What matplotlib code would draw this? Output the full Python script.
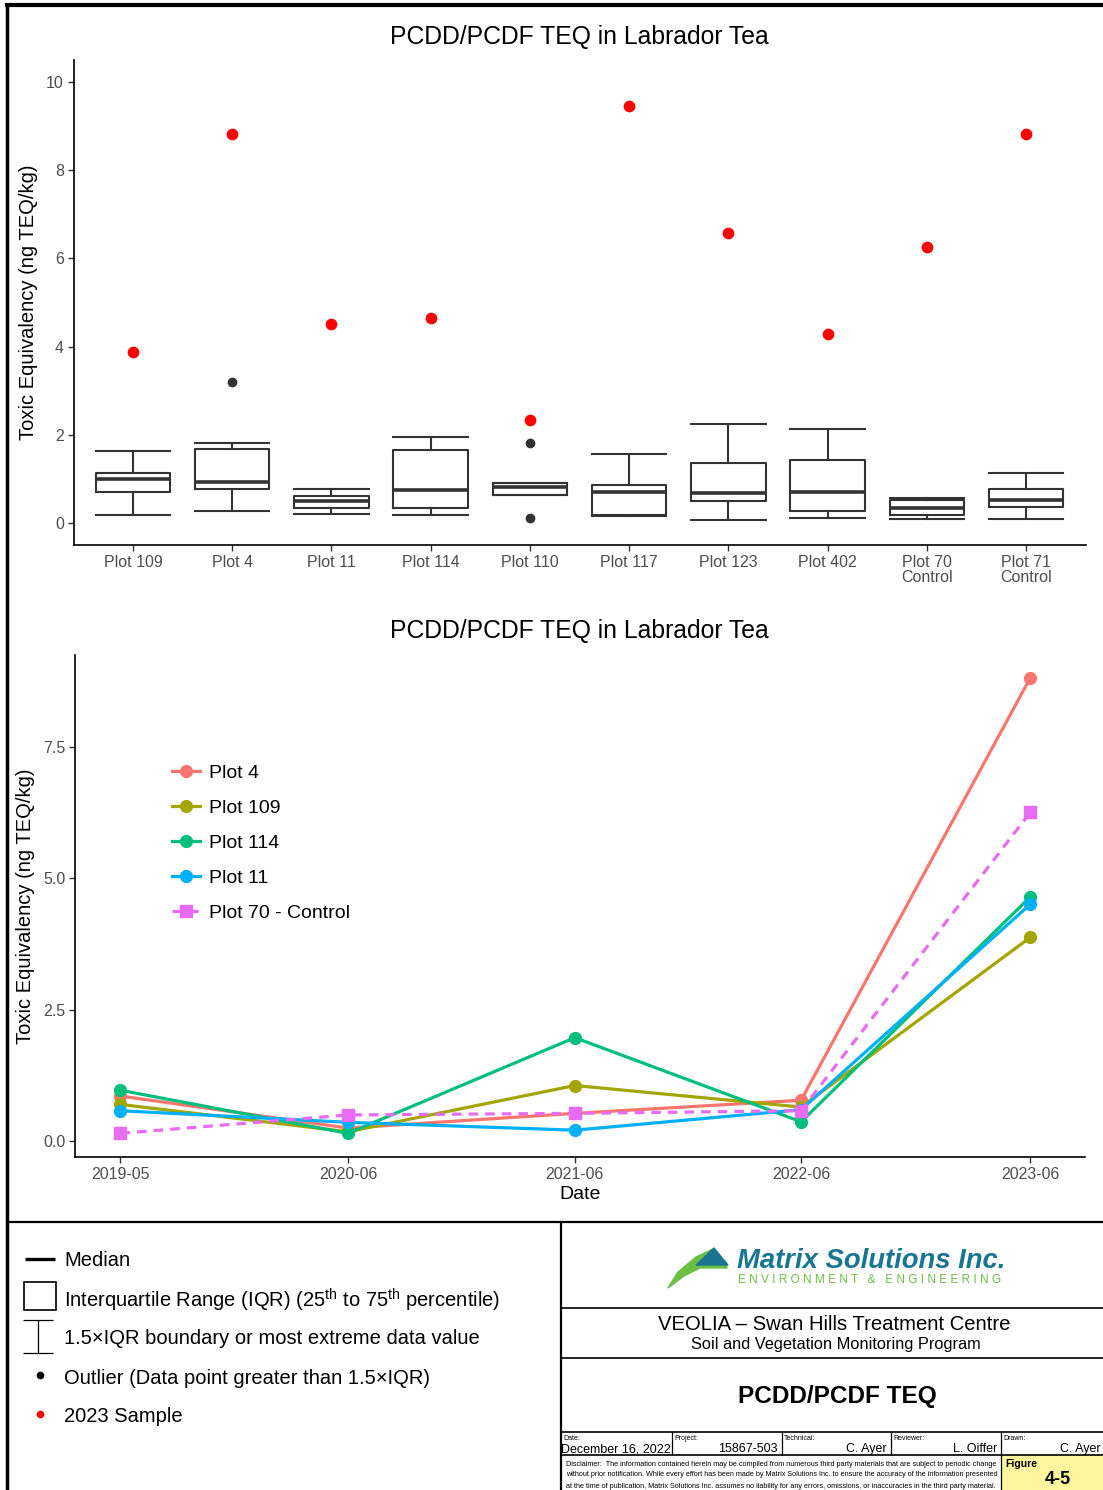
import numpy as np
import pandas as pd
import matplotlib
matplotlib.use("Agg")
import matplotlib.pyplot as plt
import matplotlib.dates as mdates
from matplotlib.lines import Line2D
from matplotlib.patches import Rectangle, Polygon

plt.rcParams['font.family'] = ['Liberation Sans', 'DejaVu Sans']
plt.rcParams['mathtext.fontset'] = 'custom'
plt.rcParams['mathtext.rm'] = 'Liberation Sans'

W, H = 1103, 1490

# box plot data
plots = ['Plot 109', 'Plot 4', 'Plot 11', 'Plot 114', 'Plot 110', 'Plot 117',
         'Plot 123', 'Plot 402', 'Plot 70\nControl', 'Plot 71\nControl']
whis_lo = [0.18, 0.26, 0.21, 0.17, 0.63, 0.15, 0.07, 0.11, 0.08, 0.08]
q1 = [0.71, 0.77, 0.35, 0.35, 0.63, 0.17, 0.50, 0.26, 0.18, 0.37]
med = [1.00, 0.93, 0.50, 0.74, 0.82, 0.71, 0.69, 0.71, 0.33, 0.52]
q3 = [1.13, 1.67, 0.62, 1.66, 0.90, 0.86, 1.36, 1.43, 0.51, 0.76]
whis_hi = [1.63, 1.81, 0.76, 1.96, 0.90, 1.56, 2.24, 2.13, 0.57, 1.13]
outliers = [[], [3.20], [], [], [1.82, 0.11], [], [], [], [], []]
sample_2023 = [3.88, 8.82, 4.51, 4.65, 2.34, 9.46, 6.58, 4.29, 6.26, 8.82]

# time series data
dates = ['2019-05-30', '2020-06-01', '2021-06-03', '2022-06-04', '2023-06-10']
series = ['Plot 4', 'Plot 109', 'Plot 114', 'Plot 11', 'Plot 70 - Control']
plot4 = [0.86, 0.25, 0.53, 0.78, 8.82]
plot109 = [0.70, 0.18, 1.06, 0.65, 3.88]
plot114 = [0.97, 0.15, 1.97, 0.37, 4.65]
plot11 = [0.58, 0.36, 0.21, 0.60, 4.51]
plot70 = [0.15, 0.50, 0.53, 0.58, 6.26]
colors = ['#F8766D', '#A3A500', '#00BF7D', '#00B0F6', '#E76BF3']


def fx(x):
    return x / W


def fy(y):
    return 1 - y / H


def px_axes(l, t, r, b):
    return fig.add_axes([l / W, 1 - b / H, (r - l) / W, (b - t) / H])


def style(ax):
    for s in ['top', 'right']:
        ax.spines[s].set_visible(False)
    for s in ['left', 'bottom']:
        ax.spines[s].set_linewidth(1.2)
        ax.spines[s].set_color('black')
    ax.tick_params(length=4, width=1, color='#333333', labelcolor='#4d4d4d',
                   labelsize=11.5, pad=3)


def fline(x0, y0, x1, y1, lw=1.2):
    fig.add_artist(Line2D([fx(x0), fx(x1)], [fy(y0), fy(y1)], color='black',
                          lw=lw, transform=fig.transFigure, solid_capstyle='butt'))


def ftext(x, y, s, **kw):
    fig.text(fx(x), fy(y), s, **kw)


fig = plt.figure(figsize=(W / 100, H / 100), dpi=100)

# ---------------- box plot ----------------
ax1 = px_axes(73.5, 60, 1085.5, 545)
stats = []
for i in range(len(plots)):
    stats.append(dict(whislo=whis_lo[i], q1=q1[i], med=med[i], q3=q3[i],
                      whishi=whis_hi[i], fliers=outliers[i]))
pos = np.arange(1, len(plots) + 1)
box_c = '#333333'
ax1.bxp(stats, positions=pos, widths=0.75, capwidths=0.75,
        boxprops=dict(color=box_c, lw=1.5),
        medianprops=dict(color=box_c, lw=2.6),
        whiskerprops=dict(color=box_c, lw=1.5),
        capprops=dict(color=box_c, lw=1.5),
        flierprops=dict(marker='o', markerfacecolor=box_c, markeredgecolor=box_c,
                        markersize=6))
ax1.scatter(pos, sample_2023, s=55, color='#FF0000', zorder=3)
ax1.set_xlim(0.4, 10.6)
ax1.set_ylim(-0.5, 10.5)
ax1.set_yticks([0, 2, 4, 6, 8, 10])
ax1.set_xticks(pos)
ax1.set_xticklabels(plots, linespacing=1.05)
style(ax1)
ax1.set_ylabel('Toxic Equivalency (ng TEQ/kg)', fontsize=14.5, color='black', labelpad=6)
ftext(579.5, 37, 'PCDD/PCDF TEQ in Labrador Tea', fontsize=17.8, ha='center', va='center')

# ---------------- line plot ----------------
ax2 = px_axes(75, 655, 1085, 1157)
d = pd.to_datetime(dates)
vals = [plot4, plot109, plot114, plot11, plot70]
for name, v, c in zip(series, vals, colors):
    if name.endswith('Control'):
        ax2.plot(d, v, color=c, lw=2.3, ls=(0, (3, 2.2)), marker='s', markersize=8.5, label=name)
    else:
        ax2.plot(d, v, color=c, lw=2.3, marker='o', markersize=8.5, label=name)
span = d[-1] - d[0]
ax2.set_xlim(d[0] - span * 0.05, d[-1] + span * 0.06)
ax2.set_ylim(-0.3, 9.25)
ax2.set_yticks([0, 2.5, 5, 7.5])
ax2.set_yticklabels(['0.0', '2.5', '5.0', '7.5'])
ax2.set_xticks(d)
ax2.xaxis.set_major_formatter(mdates.DateFormatter('%Y-%m'))
style(ax2)
ax2.set_ylabel('Toxic Equivalency (ng TEQ/kg)', fontsize=14.5, color='black', labelpad=6)
ax2.set_xlabel('Date', fontsize=14, color='black', labelpad=3)
ax2.legend(loc='upper left', bbox_to_anchor=(fx(172), fy(764)), bbox_transform=fig.transFigure,
           frameon=False, fontsize=14, handlelength=1.45, labelspacing=0.9,
           handletextpad=0.45, borderaxespad=0, borderpad=0)
ftext(579.5, 631, 'PCDD/PCDF TEQ in Labrador Tea', fontsize=17.8, ha='center', va='center')

# ---------------- frame ----------------
fline(5, 4.5, 1103, 4.5, lw=3)
fline(6.5, 3, 6.5, 1490, lw=2.5)
fline(6.5, 1222, 1103, 1222, lw=1.6)
fline(561, 1222, 561, 1490, lw=1.6)
for yy in [1308, 1358, 1432, 1455]:
    fline(561, yy, 1103, yy, lw=1.2)
for xx in [672, 782, 891, 1001]:
    fline(xx, 1432, xx, 1455, lw=0.9)
fline(1001, 1455, 1001, 1490, lw=0.9)

# ---------------- key ----------------
fline(25, 1259, 55, 1259, lw=2.4)
fig.add_artist(Rectangle((fx(24), fy(1310)), 32 / W, 28 / H, transform=fig.transFigure,
                         fill=False, ec='black', lw=1.2))
fline(23, 1320, 53, 1320, lw=0.9)
fline(23, 1353, 53, 1353, lw=0.9)
fline(38, 1320, 38, 1353, lw=0.9)
fig.add_artist(Line2D([fx(40)], [fy(1375)], marker='o', color='black', markersize=4.5,
                      transform=fig.transFigure))
fig.add_artist(Line2D([fx(40)], [fy(1414)], marker='o', color='#FF0000', markersize=4.5,
                      transform=fig.transFigure))
key_fs = 14.5
ftext(64, 1261, 'Median', fontsize=key_fs, va='center')
ftext(64, 1300, r'Interquartile Range (IQR) (25$^{\rm th}$ to 75$^{\rm th}$ percentile)',
      fontsize=key_fs, va='center')
ftext(64, 1339, '1.5×IQR boundary or most extreme data value', fontsize=key_fs, va='center')
ftext(64, 1378, 'Outlier (Data point greater than 1.5×IQR)', fontsize=key_fs, va='center')
ftext(64, 1417, '2023 Sample', fontsize=key_fs, va='center')

# ---------------- title block ----------------
teal = '#1A7592'
green = '#6DBE45'
fig.add_artist(Polygon([(fx(668), fy(1288)), (fx(678), fy(1272)), (fx(696), fy(1257)),
                        (fx(713), fy(1249)), (fx(703), fy(1259)), (fx(726), fy(1262)),
                        (fx(727), fy(1268)), (fx(700), fy(1268)), (fx(684), fy(1276))],
                       closed=True, color=green, transform=fig.transFigure))
fig.add_artist(Polygon([(fx(696), fy(1265)), (fx(714), fy(1248)), (fx(728), fy(1265))],
                       closed=True, color=teal, transform=fig.transFigure))
ftext(737, 1261, 'Matrix Solutions Inc.', fontsize=19.8, fontweight='bold', fontstyle='italic',
      color=teal, va='center')
ftext(738, 1280, ' '.join('ENVIRONMENT & ENGINEERING'), fontsize=8.6, color=green, va='center')

ftext(834, 1325, 'VEOLIA – Swan Hills Treatment Centre', fontsize=14.6, ha='center', va='center')
ftext(836, 1345, 'Soil and Vegetation Monitoring Program', fontsize=11.8, ha='center', va='center')
ftext(837, 1397, 'PCDD/PCDF TEQ', fontsize=17.6, fontweight='bold', ha='center', va='center')

lab_fs = 5
ftext(563, 1438, 'Date:', fontsize=lab_fs, va='center')
ftext(674, 1438, 'Project:', fontsize=lab_fs, va='center')
ftext(784, 1438, 'Technical:', fontsize=lab_fs, va='center')
ftext(893, 1438, 'Reviewer:', fontsize=lab_fs, va='center')
ftext(1003, 1438, 'Drawn:', fontsize=lab_fs, va='center')
val_fs = 9
ftext(561, 1449, 'December 16, 2022', fontsize=val_fs, va='center')
ftext(778, 1449, '15867-503', fontsize=val_fs, va='center', ha='right')
ftext(887, 1449, 'C. Ayer', fontsize=val_fs, va='center', ha='right')
ftext(997, 1449, 'L. Oiffer', fontsize=val_fs, va='center', ha='right')
ftext(1101, 1449, 'C. Ayer', fontsize=val_fs, va='center', ha='right')

disc = ['Disclaimer:  The information contained herein may be compiled from numerous third party materials that are subject to periodic change',
        'without prior notification. While every effort has been made by Matrix Solutions Inc. to ensure the accuracy of the information presented',
        'at the time of publication, Matrix Solutions Inc. assumes no liability for any errors, omissions, or inaccuracies in the third party material.']
for i, line in enumerate(disc):
    ftext(566, 1464 + i * 11, line, fontsize=5.2, va='center')

fig.add_artist(Rectangle((fx(1001.5), fy(1490)), 110 / W, 35 / H, transform=fig.transFigure,
                         fc='#FFF59D', ec='none', zorder=0))
ftext(1005, 1464, 'Figure', fontsize=7.5, fontweight='bold', va='center')
ftext(1058, 1479, '4-5', fontsize=13, fontweight='bold', va='center', ha='center')

fig.savefig('out.png', dpi=100)
